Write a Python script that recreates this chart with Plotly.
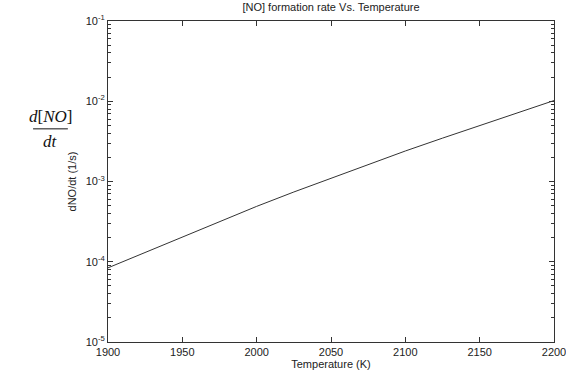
import plotly.graph_objects as go

temperature = [1900, 1925, 1950, 1975, 2000, 2025, 2050, 2075, 2100, 2125, 2150, 2175, 2200]
dno_dt = [8.4e-5, 1.30e-4, 2.0e-4, 3.16e-4, 4.9e-4, 7.4e-4, 1.10e-3, 1.62e-3,
          2.40e-3, 3.47e-3, 5.0e-3, 7.2e-3, 1.02e-2]

x_ticks = [1900, 1950, 2000, 2050, 2100, 2150, 2200]
y_ticks = [1e-5, 1e-4, 1e-3, 1e-2, 1e-1]
y_ticktext = ["10<sup>-5</sup>", "10<sup>-4</sup>", "10<sup>-3</sup>", "10<sup>-2</sup>", "10<sup>-1</sup>"]
y_minor = [m * 10.0 ** e for e in range(-5, -1) for m in range(2, 10)]

font_main = "Liberation Sans, Arial, sans-serif"

fig = go.Figure()
fig.add_trace(go.Scatter(x=temperature, y=dno_dt, mode="lines",
                         line=dict(color="#333333", width=1), showlegend=False))

fig.update_layout(
    width=566, height=377, autosize=False,
    margin=dict(l=108, r=12, t=21, b=35, autoexpand=False),
    paper_bgcolor="white", plot_bgcolor="white",
    font=dict(family=font_main, size=11, color="#222222"),
    title=dict(text="[NO] formation rate Vs. Temperature", x=0.5, xref="paper",
               y=1, yref="container", yanchor="top", pad=dict(t=3),
               font=dict(size=11, family=font_main, color="#222222")),
    xaxis=dict(range=[1900, 2200], tickvals=x_ticks, ticks="inside", ticklen=5,
               showline=True, linecolor="#333333", linewidth=1, mirror="ticks",
               showgrid=False, zeroline=False, tickcolor="#333333", automargin=False,
               ticklabeloverflow="allow",
               title=dict(text="Temperature (K)", standoff=2,
                          font=dict(size=11, family=font_main))),
    yaxis=dict(type="log", range=[-5, -1], tickvals=y_ticks, ticktext=y_ticktext,
               ticks="inside", ticklen=5, showline=True, linecolor="#333333",
               linewidth=1, mirror="ticks", showgrid=False, zeroline=False,
               tickcolor="#333333", automargin=False, ticklabeloverflow="allow",
               minor=dict(tickvals=y_minor, ticks="inside", ticklen=3,
                          tickcolor="#333333", showgrid=False),
               title=dict(text="dNO/dt (1/s)", standoff=6,
                          font=dict(size=11, family=font_main))),
)

serif = "Liberation Serif, Times New Roman, serif"
fig.add_annotation(text="<i>d</i>[<i>NO</i>]", xref="paper", yref="paper",
                   x=-0.13, y=0.667, xanchor="center", yanchor="bottom",
                   showarrow=False, font=dict(family=serif, size=17, color="#111111"))
fig.add_annotation(text="<i>dt</i>", xref="paper", yref="paper",
                   x=-0.13, y=0.66, xanchor="center", yanchor="top",
                   showarrow=False, font=dict(family=serif, size=17, color="#111111"))
fig.add_shape(type="line", xref="paper", yref="paper", x0=-0.168, x1=-0.09,
              y0=0.664, y1=0.664, line=dict(color="#111111", width=1))

fig.write_html("out.html")
